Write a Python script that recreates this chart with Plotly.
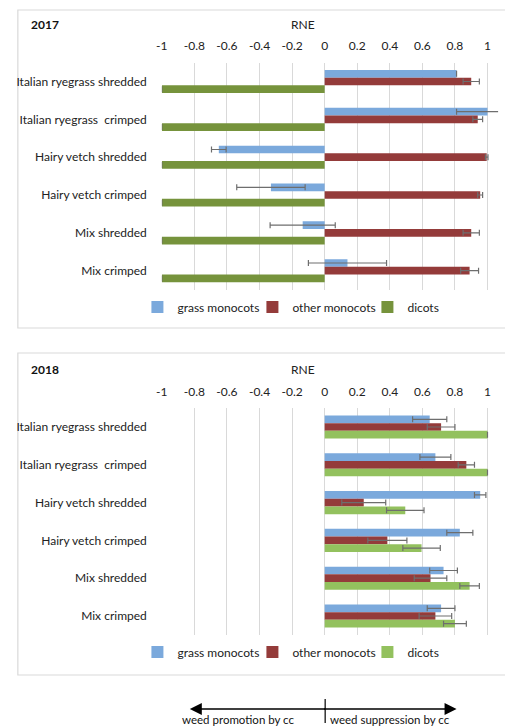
import plotly.graph_objects as go

W, H = 505, 727

categories = ["Italian ryegrass shredded", "Italian ryegrass  crimped", "Hairy vetch shredded",
              "Hairy vetch crimped", "Mix shredded", "Mix crimped"]
series_names = ["grass monocots", "other monocots", "dicots"]

# 2017
grass_2017 = [0.81, 1.00, -0.65, -0.33, -0.135, 0.14]
grass_2017_err = [0.0, 0.19, 0.045, 0.21, 0.20, 0.24]
other_2017 = [0.90, 0.94, 0.995, 0.955, 0.90, 0.89]
other_2017_err = [0.05, 0.03, 0.008, 0.015, 0.05, 0.055]
dicots_2017 = [-1, -1, -1, -1, -1, -1]
dicots_2017_err = [0, 0, 0, 0, 0, 0]

# 2018
grass_2018 = [0.645, 0.68, 0.955, 0.83, 0.73, 0.715]
grass_2018_err = [0.105, 0.095, 0.035, 0.08, 0.085, 0.085]
other_2018 = [0.715, 0.87, 0.24, 0.385, 0.65, 0.68]
other_2018_err = [0.085, 0.05, 0.135, 0.12, 0.10, 0.10]
dicots_2018 = [1.0, 1.0, 0.495, 0.595, 0.89, 0.80]
dicots_2018_err = [0, 0, 0.115, 0.115, 0.06, 0.07]

tick_vals = [-1, -0.8, -0.6, -0.4, -0.2, 0, 0.2, 0.4, 0.6, 0.8, 1]
tick_text = ["-1", "-0.8", "-0.6", "-0.4", "-0.2", "0", "0.2", "0.4", "0.6", "0.8", "1"]

blue = "#7BA9DC"
red = "#943B3A"
green17 = "#76933C"
green18 = "#93C15E"
FONT = "Lato"

def px(x):
    return x / W

def py(y):
    return 1 - y / H

fig = go.Figure()

def add_bars(vals, errs, name, color, xa, ya, legend):
    fig.add_trace(go.Bar(
        y=[c.replace("  ", "\u00a0 ") for c in categories], x=vals, orientation="h", name=name,
        marker=dict(color=color, line=dict(width=0)),
        error_x=dict(type="data", array=errs, visible=True, color="#6E6E6E", thickness=1.2, width=3),
        xaxis=xa, yaxis=ya, legend=legend,
    ))

add_bars(grass_2017, grass_2017_err, series_names[0], blue, "x", "y", "legend")
add_bars(other_2017, other_2017_err, series_names[1], red, "x", "y", "legend")
add_bars(dicots_2017, dicots_2017_err, series_names[2], green17, "x", "y", "legend")
add_bars(grass_2018, grass_2018_err, series_names[0], blue, "x2", "y2", "legend2")
add_bars(other_2018, other_2018_err, series_names[1], red, "x2", "y2", "legend2")
add_bars(dicots_2018, dicots_2018_err, series_names[2], green18, "x2", "y2", "legend2")

x0, x1 = 157.7, 487.3
unit = (x1 - x0) / 2
xr = 1.065
xdom = [px(x0), px(x1 + (xr - 1) * unit)]

xcommon = dict(range=[-1, xr], tickvals=tick_vals, ticktext=tick_text, side="top",
               showgrid=True, gridcolor="#D9D9D9", gridwidth=1, zeroline=False,
               showline=False, ticks="", tickfont=dict(family=FONT, size=12, color="#222"),
               ticklabelstandoff=9, fixedrange=True)
ycommon = dict(autorange="reversed", showgrid=False, ticks="", showline=False,
               tickfont=dict(family=FONT, size=12, color="#222"), ticklabelstandoff=14)

legend_common = dict(orientation="h", xanchor="left", yanchor="middle",
                     font=dict(family=FONT, size=12, color="#222"), itemclick=False,
                     entrywidth=70, bgcolor="rgba(0,0,0,0)")

fig.update_layout(
    width=W, height=H, margin=dict(l=0, r=0, t=0, b=0),
    paper_bgcolor="white", plot_bgcolor="white",
    barmode="group", bargap=0.39, bargroupgap=0,
    xaxis=dict(domain=xdom, anchor="y", **xcommon),
    yaxis=dict(domain=[py(289.6), py(62.6)], anchor="x", **ycommon),
    xaxis2=dict(domain=xdom, anchor="y2", **xcommon),
    yaxis2=dict(domain=[py(634.9), py(408.1)], anchor="x2", **ycommon),
    showlegend=True,
    legend=dict(x=px(133), y=py(307), **legend_common),
    legend2=dict(x=px(133), y=py(652), **legend_common),
    font=dict(family=FONT),
)

shapes = [
    dict(type="rect", xref="paper", yref="paper", x0=px(12), x1=px(520), y0=py(328), y1=py(10),
         line=dict(color="#D9D9D9", width=1.2), layer="below"),
    dict(type="rect", xref="paper", yref="paper", x0=px(12), x1=px(520), y0=py(675), y1=py(353),
         line=dict(color="#D9D9D9", width=1.2), layer="below"),
    dict(type="line", xref="paper", yref="paper", x0=px(323), x1=px(323), y0=py(699), y1=py(723),
         line=dict(color="black", width=1.2)),
]

annotations = [
    dict(text="<b>2017</b>", x=px(23), y=py(24), xref="paper", yref="paper", xanchor="left",
         yanchor="middle", showarrow=False, font=dict(family=FONT, size=12, color="#111")),
    dict(text="RNE", x=px(301), y=py(24), xref="paper", yref="paper", xanchor="center",
         yanchor="middle", showarrow=False, font=dict(family=FONT, size=12, color="#222")),
    dict(text="<b>2018</b>", x=px(23), y=py(369), xref="paper", yref="paper", xanchor="left",
         yanchor="middle", showarrow=False, font=dict(family=FONT, size=12, color="#111")),
    dict(text="RNE", x=px(301), y=py(369), xref="paper", yref="paper", xanchor="center",
         yanchor="middle", showarrow=False, font=dict(family=FONT, size=12, color="#222")),
    # arrows
    dict(text="", x=px(186), y=py(709), xref="paper", yref="paper", ax=137, ay=0,
         axref="pixel", ayref="pixel", showarrow=True, arrowhead=2, arrowsize=1.5,
         arrowwidth=1.6, arrowcolor="black"),
    dict(text="", x=px(456), y=py(709), xref="paper", yref="paper", ax=-134, ay=0,
         axref="pixel", ayref="pixel", showarrow=True, arrowhead=2, arrowsize=1.5,
         arrowwidth=1.6, arrowcolor="black"),
    dict(text="weed promotion by cc", x=px(235), y=py(719), xref="paper", yref="paper",
         xanchor="center", yanchor="middle", showarrow=False,
         font=dict(family=FONT, size=11.5, color="#111")),
    dict(text="weed suppression by cc", x=px(389), y=py(719), xref="paper", yref="paper",
         xanchor="center", yanchor="middle", showarrow=False,
         font=dict(family=FONT, size=11.5, color="#111")),
]

fig.update_layout(shapes=shapes, annotations=annotations)
fig.write_html("out.html")
